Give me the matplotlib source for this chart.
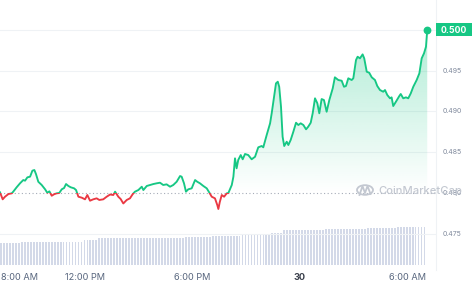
import numpy as np
import matplotlib
matplotlib.use('Agg')
import matplotlib.pyplot as plt
from matplotlib.patches import Rectangle, PathPatch, Circle
from matplotlib.path import Path
from matplotlib.colors import to_rgb
import matplotlib.transforms as mtransforms

plt.rcParams['font.family'] = ['Inter', 'DejaVu Sans']

# hours since 00:00 on the 29th
hours = [7.25, 7.40, 7.53, 7.72, 7.91, 7.99, 8.18, 8.37, 8.55, 8.65, 8.78, 8.93,
         9.06, 9.17, 9.26, 9.39, 9.58, 9.77, 9.89, 10.01, 10.14, 10.27, 10.42, 10.56,
         10.70, 10.83, 10.94, 11.07, 11.20, 11.39, 11.50, 11.63, 11.82, 12.00, 12.13,
         12.28, 12.46, 12.65, 12.80, 13.02, 13.21, 13.40, 13.58, 13.68, 13.86, 13.99,
         14.14, 14.33, 14.51, 14.66, 14.79, 14.98, 15.17, 15.26, 15.45, 15.63, 15.82,
         16.01, 16.19, 16.37, 16.56, 16.75, 16.93, 17.12, 17.31, 17.40, 17.53, 17.64,
         17.77, 17.96, 18.15, 18.27, 18.42, 18.61, 18.80, 18.94, 19.08, 19.26, 19.39,
         19.45, 19.53, 19.64, 19.77, 19.92, 20.01, 20.20, 20.29, 20.38, 20.47, 20.56,
         20.70, 20.81, 20.94, 21.12, 21.31, 21.50, 21.68, 21.87, 21.96, 22.15, 22.34,
         22.43, 22.56, 22.67, 22.77, 22.85, 22.95, 23.04, 23.13, 23.27, 23.36, 23.49,
         23.64, 23.79, 23.92, 24.05, 24.20, 24.35, 24.47, 24.61, 24.72, 24.85, 24.98,
         25.09, 25.22, 25.35, 25.50, 25.65, 25.84, 25.96, 26.15, 26.34, 26.47, 26.58,
         26.71, 26.90, 26.99, 27.14, 27.23, 27.36, 27.51, 27.60, 27.74, 27.88, 28.02,
         28.20, 28.33, 28.48, 28.66, 28.76, 28.89, 29.04, 29.13, 29.22, 29.37, 29.56,
         29.64, 29.78, 29.93, 30.06, 30.20, 30.34, 30.53, 30.68, 30.81, 30.94, 31.05,
         31.12]

price = [0.48006, 0.47920, 0.47952, 0.47985, 0.47994, 0.48014, 0.48068, 0.48117,
         0.48157, 0.48149, 0.48190, 0.48198, 0.48272, 0.48280, 0.48231, 0.48136,
         0.48096, 0.48043, 0.48001, 0.48018, 0.47964, 0.47982, 0.47994, 0.47998,
         0.48043, 0.48059, 0.48108, 0.48084, 0.48068, 0.48055, 0.48034, 0.47952,
         0.47940, 0.47920, 0.47973, 0.47903, 0.47920, 0.47932, 0.47912, 0.47920,
         0.47952, 0.47979, 0.47973, 0.48014, 0.47952, 0.47924, 0.47869, 0.47912,
         0.47932, 0.47982, 0.48014, 0.48034, 0.48075, 0.48034, 0.48084, 0.48096,
         0.48108, 0.48117, 0.48124, 0.48096, 0.48104, 0.48075, 0.48096, 0.48136,
         0.48206, 0.48198, 0.48117, 0.48014, 0.48043, 0.48055, 0.48157, 0.48136,
         0.48117, 0.48084, 0.48055, 0.48005, 0.47952, 0.47932, 0.47850, 0.47801,
         0.47887, 0.47973, 0.47952, 0.47994, 0.47998, 0.48096, 0.48198, 0.48424,
         0.48301, 0.48403, 0.48464, 0.48412, 0.48477, 0.48464, 0.48412, 0.48443,
         0.48559, 0.48575, 0.48559, 0.48710, 0.48854, 0.48977, 0.49181, 0.49345,
         0.49365, 0.49303, 0.49058, 0.48689, 0.48575, 0.48628, 0.48587, 0.48649,
         0.48751, 0.48861, 0.48833, 0.48854, 0.48833, 0.48780, 0.48812, 0.48861,
         0.48977, 0.49161, 0.49100, 0.48977, 0.49152, 0.49140, 0.48996, 0.49140,
         0.49284, 0.49419, 0.49386, 0.49377, 0.49303, 0.49312, 0.49407, 0.49386,
         0.49407, 0.49631, 0.49672, 0.49652, 0.49701, 0.49652, 0.49488, 0.49475,
         0.49419, 0.49386, 0.49312, 0.49263, 0.49242, 0.49263, 0.49201, 0.49161,
         0.49173, 0.49066, 0.49119, 0.49189, 0.49214, 0.49161, 0.49173, 0.49161,
         0.49222, 0.49303, 0.49386, 0.49468, 0.49652, 0.49714, 0.49795, 0.50000]

open_price = 0.4800

# 24h volume, one bar every 10 minutes (relative units)
volume = ([22.0] * 7 + [23.3] * 21 + [25.0] * 5 + [26.7] * 29 + [27.7] * 9 +
          [29.0] * 10 + [30.7] * 10 + [32.3] * 4 + [35.0] * 14 + [35.7] * 14 +
          [36.7] * 10 + [38.3] * 10)

tick_pos = [8, 12, 18, 24, 30]
tick_lab = ['8:00 AM', '12:00 PM', '6:00 PM', '30', '6:00 AM']
y_ticks = [0.475, 0.480, 0.485, 0.490, 0.495]

GREEN = '#16c784'
RED = '#ea3943'

t = np.array(hours)
p = np.array(price)
xlim = (7.25, 31.61)
ylim = (0.47113, 0.50369)

fig = plt.figure(figsize=(4.72, 2.85), dpi=100)
pos = [0, 20 / 285, 436 / 472, 265 / 285]

# volume bars behind
axv = fig.add_axes(pos)
vt = 7.25 + np.arange(len(volume)) / 6
axv.bar(vt, volume, width=0.62 / 6, align='edge', color='#d3d9e8', lw=0)
axv.set_xlim(xlim)
axv.set_ylim(0, 265)
axv.axis('off')

ax = fig.add_axes(pos)
ax.patch.set_alpha(0)
ax.set_xlim(xlim)
ax.set_ylim(ylim)

for yv in [0.475, 0.485, 0.490, 0.495, 0.500]:
    ax.axhline(yv, color='#eff2f5', lw=0.8, zorder=0)
ax.axhline(open_price, color='#a6acb8', lw=0.8, ls=(0, (1, 2.2)), zorder=1)

# gradient fill above the open price
fb = ax.fill_between(t, p, open_price, where=p >= open_price, interpolate=True,
                     color='none', lw=0)
clip = PathPatch(Path.make_compound_path(*fb.get_paths()), transform=ax.transData,
                 facecolor='none', edgecolor='none')
ax.add_patch(clip)
grad = np.zeros((256, 1, 4))
grad[..., :3] = to_rgb(GREEN)
grad[..., 3] = np.linspace(0, 0.34, 256)[:, None]
im = ax.imshow(grad, extent=[t[0], t[-1], open_price, 0.500], origin='lower',
               aspect='auto', zorder=1)
im.set_clip_path(clip)
ax.set_xlim(xlim)
ax.set_ylim(ylim)

# price line, green above open, red below
up = Rectangle((0, open_price), 100, 1, transform=ax.transData)
dn = Rectangle((0, open_price - 1), 100, 1, transform=ax.transData)
lg, = ax.plot(t, p, color=GREEN, lw=1.35, zorder=3, solid_joinstyle='round')
lg.set_clip_path(up)
lr, = ax.plot(t, p, color=RED, lw=1.35, zorder=3, solid_joinstyle='round')
lr.set_clip_path(dn)
ax.plot(t[-1], p[-1], 'o', color=GREEN, ms=4.6, zorder=4, clip_on=False)

for s in ['top', 'left', 'bottom']:
    ax.spines[s].set_visible(False)
ax.spines['right'].set_color('#eff2f5')
ax.spines['right'].set_linewidth(0.8)
ax.spines['right'].set_bounds(ylim[0] - 0.0006, ylim[1])

ax.set_yticks([])
ax.set_xticks(tick_pos)
ax.set_xticklabels(tick_lab, fontsize=6.6, color='#58667e')
ax.tick_params(axis='x', length=0, pad=5.5)
lbl = ax.get_xticklabels()
lbl[3].set_fontweight('bold')
lbl[3].set_color('#3a3f4b')
lbl[0].set_transform(lbl[0].get_transform() +
                     mtransforms.ScaledTranslation(6 / 100, 0, fig.dpi_scale_trans))

tr = mtransforms.blended_transform_factory(ax.transAxes, ax.transData)
for yv in y_ticks:
    ax.text(443 / 436, yv, f'{yv:.3f}', transform=tr, fontsize=5, color='#808a9d',
            ha='left', va='center')

# current price tag
ax.add_patch(Rectangle((436 / 472, (285 - 36) / 285), 36 / 472, 13.3 / 285,
                       transform=fig.transFigure, color=GREEN, lw=0,
                       clip_on=False, zorder=5))
ax.text(454 / 436, p[-1], f'{price[-1]:.3f}', transform=tr, fontsize=6.3,
        color='white', fontweight='bold', ha='center', va='center', zorder=6)

# watermark
wm = '#c3c8d1'
fig.text(378 / 472, 1 - 191 / 285, 'CoinMarketCap', fontsize=8.1, color=wm,
         fontweight='medium', ha='left', va='center', zorder=5)
fig.patches.append(Circle((365 / 472, 1 - 190 / 285), 8 / 472,
                          transform=fig.transFigure, fill=False, ec=wm, lw=1.3))
fig.lines.append(plt.Line2D([359.5 / 472, 362.5 / 472, 365 / 472, 367.5 / 472, 370.5 / 472],
                            [1 - 195 / 285, 1 - 186 / 285, 1 - 193 / 285, 1 - 186 / 285, 1 - 194 / 285],
                            transform=fig.transFigure, color=wm, lw=1.3))

fig.savefig('out.png', dpi=100)
